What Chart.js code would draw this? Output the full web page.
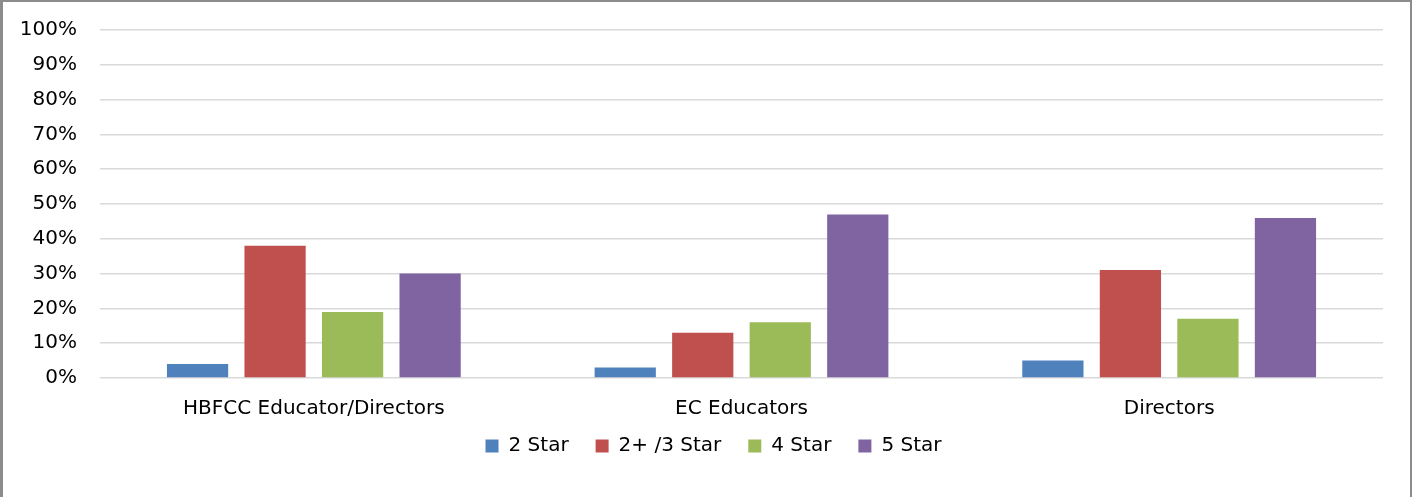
<!DOCTYPE html>
<html lang="en">
<head>
    <meta charset="UTF-8">
    <title>Star Rating by Role</title>
    <script src="https://cdn.jsdelivr.net/npm/chart.js"></script>
    <style>
        html, body { margin: 0; padding: 0; background: #fff; }
        .frame {
            width: 1412px;
            height: 497px;
            box-sizing: border-box;
            border-left: 3px solid #8c8c8c;
            border-top: 2px solid #8c8c8c;
            border-right: 2px solid #8c8c8c;
            position: relative;
        }
        .frame canvas { display: block; }
    </style>
</head>
<body>
    <div class="frame">
        <canvas id="chart" width="1407" height="495"></canvas>
    </div>

    <script>
        const categories = ['HBFCC Educator/Directors', 'EC Educators', 'Directors'];
        const seriesNames = ['2 Star', '2+ /3 Star', '4 Star', '5 Star'];
        const twoStar = [4, 3, 5];
        const threeStar = [38, 13, 31];
        const fourStar = [19, 16, 17];
        const fiveStar = [30, 47, 46];
        const seriesColors = ['#4f81bd', '#c0504d', '#9bbb59', '#8064a2'];

        const values = [twoStar, threeStar, fourStar, fiveStar];
        const fontFamily = '"DejaVu Sans", Verdana, sans-serif';

        const datasets = seriesNames.map((name, i) => ({
            label: name,
            data: values[i],
            backgroundColor: seriesColors[i],
            borderColor: seriesColors[i],
            borderWidth: 0,
            categoryPercentage: 0.725,
            barPercentage: 0.79
        }));

        // the legend keeps wide gaps between items, but sits close under the axis labels
        const placeLegend = {
            id: 'placeLegend',
            afterLayout(chart) {
                const lg = chart.legend;
                if (!lg) return;
                lg.top -= 13;
                lg.bottom -= 13;
                lg.left += 12;
                lg.right += 12;
            }
        };

        new Chart('chart', {
            type: 'bar',
            data: {
                labels: categories,
                datasets: datasets
            },
            plugins: [placeLegend],
            options: {
                responsive: false,
                animation: false,
                layout: {
                    padding: { top: 28, right: 27, bottom: 18, left: 17 }
                },
                plugins: {
                    tooltip: { enabled: false },
                    legend: {
                        position: 'bottom',
                        labels: {
                            color: '#000',
                            font: { family: fontFamily, size: 20 },
                            boxWidth: 13,
                            boxHeight: 13,
                            padding: 27
                        }
                    }
                },
                scales: {
                    x: {
                        grid: { display: false, drawTicks: false },
                        border: { display: false },
                        ticks: {
                            color: '#000',
                            padding: 19,
                            font: { family: fontFamily, size: 20 }
                        },
                        afterFit: scale => { scale.height = 44; }
                    },
                    y: {
                        min: 0,
                        max: 100,
                        grid: { color: '#d9d9d9', lineWidth: 1.6, drawTicks: false },
                        border: { display: false },
                        ticks: {
                            stepSize: 10,
                            color: '#000',
                            padding: 23,
                            font: { family: fontFamily, size: 20 },
                            callback: v => v + '%'
                        },
                        afterFit: scale => {
                            scale.width = 80;
                            scale.paddingTop = 12;
                            scale.paddingBottom = 12;
                        }
                    }
                }
            }
        });
    </script>
</body>
</html>
